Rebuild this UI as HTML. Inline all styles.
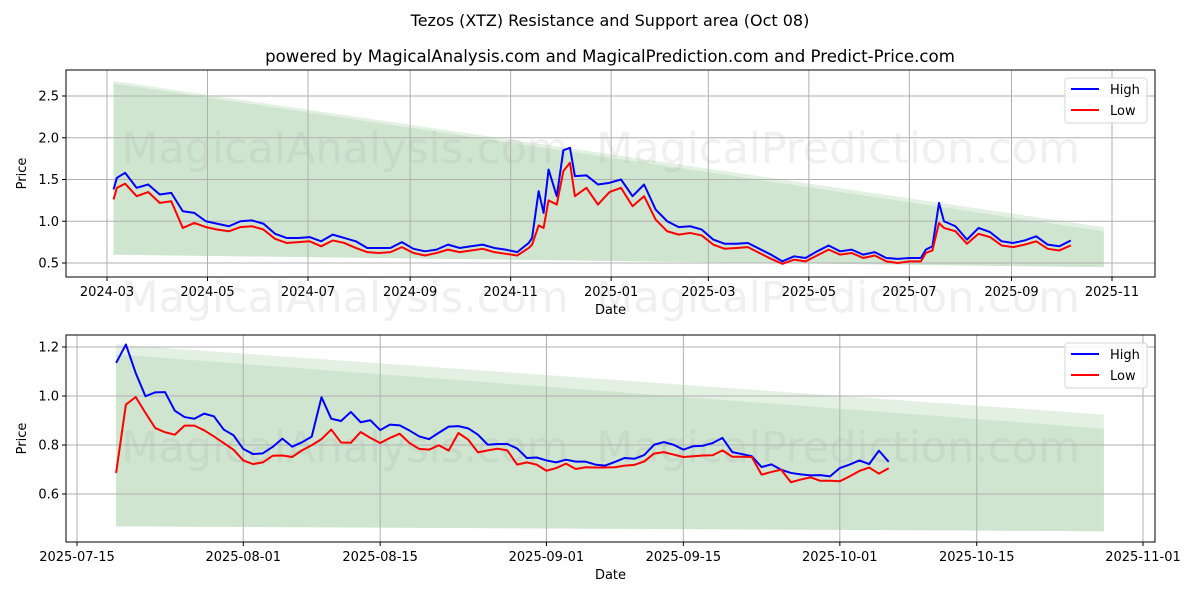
<!DOCTYPE html>
<html><head><meta charset="utf-8"><style>
html,body{margin:0;padding:0;background:#fff;}
svg{display:block;font-family:"DejaVu Sans","Liberation Sans",sans-serif;}
</style></head><body>
<svg id="chart" width="1200" height="600" viewBox="0 0 1200 600" xmlns="http://www.w3.org/2000/svg">
<rect width="1200" height="600" fill="#fff"/>
<text x="610" y="26" font-size="16" text-anchor="middle">Tezos (XTZ) Resistance and Support area (Oct 08)</text>
<text x="610" y="62" font-size="16.6" text-anchor="middle">powered by MagicalAnalysis.com and MagicalPrediction.com and Predict-Price.com</text>
<g id="top"></g>
<g id="bot"></g>
</svg>
<script>
// ---------- top chart data (days since 2024-03-01) ----------
const topDays = [4,6,11,18,25,32,39,46,53,60,67,74,81,88,95,102,109,116,123,130,137,144,151,158,165,172,179,186,193,200,207,214,221,228,235,242,249,256,258,262,265,268,273,277,281,284,291,298,305,312,319,326,333,340,347,354,361,368,375,382,389,396,403,410,417,424,431,438,445,452,459,466,473,480,487,494,497,501,505,508,515,522,529,536,543,550,557,564,571,578,585];
const topHigh = [1.38,1.52,1.58,1.40,1.44,1.32,1.34,1.12,1.10,1.00,0.97,0.94,1.00,1.01,0.97,0.85,0.80,0.80,0.81,0.76,0.84,0.80,0.76,0.68,0.68,0.68,0.75,0.67,0.64,0.66,0.72,0.68,0.70,0.72,0.68,0.66,0.63,0.74,0.80,1.36,1.10,1.62,1.30,1.85,1.88,1.54,1.55,1.44,1.46,1.50,1.30,1.44,1.14,1.00,0.93,0.94,0.90,0.78,0.73,0.73,0.74,0.67,0.60,0.52,0.58,0.56,0.64,0.71,0.64,0.66,0.60,0.63,0.56,0.55,0.56,0.56,0.66,0.70,1.22,1.00,0.94,0.78,0.92,0.87,0.76,0.74,0.77,0.82,0.72,0.70,0.77];
const topLow = [1.26,1.40,1.45,1.30,1.35,1.22,1.24,0.92,0.98,0.93,0.90,0.88,0.93,0.94,0.90,0.79,0.74,0.75,0.76,0.70,0.77,0.74,0.68,0.63,0.62,0.63,0.69,0.62,0.59,0.62,0.66,0.63,0.65,0.67,0.63,0.61,0.59,0.68,0.72,0.95,0.92,1.25,1.20,1.60,1.70,1.30,1.40,1.20,1.35,1.40,1.18,1.30,1.02,0.88,0.84,0.86,0.83,0.72,0.67,0.68,0.69,0.62,0.55,0.49,0.54,0.52,0.59,0.66,0.60,0.62,0.56,0.59,0.52,0.50,0.52,0.52,0.62,0.65,0.98,0.92,0.88,0.73,0.85,0.81,0.71,0.69,0.72,0.76,0.67,0.65,0.71];
const topBandDays = [4,605];
const topBandTopLight = [2.68,0.93];
const topBandTopDark = [2.65,0.88];
const topBandBottom = [0.60,0.45];
const topYTicks = [0.5,1.0,1.5,2.0,2.5];
const topXTickLabels = ["2024-03","2024-05","2024-07","2024-09","2024-11","2025-01","2025-03","2025-05","2025-07","2025-09","2025-11"];
const topXTickDays = [0,61,122,184,245,306,365,426,487,549,610];

// ---------- bottom chart data (days since 2025-07-15) ----------
const botHigh = [1.135,1.21,1.094,0.999,1.015,1.016,0.94,0.914,0.907,0.928,0.917,0.863,0.84,0.784,0.763,0.766,0.792,0.826,0.793,0.811,0.834,0.995,0.907,0.898,0.935,0.893,0.901,0.861,0.883,0.880,0.859,0.835,0.824,0.850,0.875,0.877,0.868,0.842,0.801,0.804,0.804,0.786,0.747,0.749,0.737,0.729,0.740,0.732,0.732,0.720,0.716,0.731,0.747,0.744,0.759,0.801,0.812,0.801,0.781,0.795,0.797,0.808,0.829,0.771,0.763,0.754,0.710,0.721,0.699,0.686,0.680,0.676,0.677,0.672,0.706,0.720,0.737,0.722,0.777,0.731];
const botLow = [0.686,0.965,0.996,0.931,0.869,0.852,0.842,0.879,0.879,0.860,0.835,0.808,0.781,0.737,0.722,0.729,0.756,0.757,0.751,0.778,0.799,0.824,0.863,0.810,0.809,0.853,0.829,0.808,0.829,0.846,0.808,0.784,0.781,0.799,0.777,0.849,0.822,0.770,0.778,0.785,0.778,0.720,0.729,0.720,0.695,0.706,0.724,0.702,0.709,0.708,0.708,0.709,0.716,0.719,0.733,0.765,0.771,0.761,0.751,0.754,0.757,0.758,0.778,0.752,0.752,0.751,0.679,0.690,0.699,0.648,0.659,0.668,0.654,0.654,0.652,0.672,0.694,0.708,0.683,0.705];
const botStartDay = 4;
const botBandDays = [4,105];
const botBandTopLight = [1.21,0.924];
const botBandTopDark = [1.17,0.867];
const botBandBottom = [0.468,0.448];
const botYTicks = [0.6,0.8,1.0,1.2];
const botXTickLabels = ["2025-07-15","2025-08-01","2025-08-15","2025-09-01","2025-09-15","2025-10-01","2025-10-15","2025-11-01"];
const botXTickDays = [0,17,31,48,62,78,92,109];

const NS="http://www.w3.org/2000/svg";
function mk(parent,tag,attrs){const e=document.createElementNS(NS,tag);for(const k in attrs)e.setAttribute(k,attrs[k]);parent.appendChild(e);return e;}

function drawPanel(g,o){
  const X=d=>o.x0+(d-o.d0)*o.pxd, Y=v=>o.y0-(v-o.v0)*o.pxv;
  const light=mk(g,'polygon',{points:`${X(o.bd[0])},${Y(o.btl[0])} ${X(o.bd[1])},${Y(o.btl[1])} ${X(o.bd[1])},${Y(o.bb[1])} ${X(o.bd[0])},${Y(o.bb[0])}`,fill:'#e3f1e3'});
  
  
  const dark=mk(g,'polygon',{points:`${X(o.bd[0])},${Y(o.btd[0])} ${X(o.bd[1])},${Y(o.btd[1])} ${X(o.bd[1])},${Y(o.bb[1])} ${X(o.bd[0])},${Y(o.bb[0])}`,fill:'#cfe5cf'});
  
  
  for(const w of o.wm){const t=mk(g,'text',{x:w[0],y:w[1],'font-size':43,fill:'#999','fill-opacity':0.15,'text-anchor':'middle'});t.textContent=w[2];
    
    }
  o.yt.forEach(v=>{mk(g,'line',{x1:o.L,x2:o.R,y1:Y(v),y2:Y(v),stroke:'#b0b0b0','stroke-width':1});
    mk(g,'line',{x1:o.L-4,x2:o.L,y1:Y(v),y2:Y(v),stroke:'#000'});
    const t=mk(g,'text',{x:o.L-7,y:Y(v)+4.5,'font-size':13,'text-anchor':'end'});t.textContent=v.toFixed(1);
    
    });
  o.xd.forEach((d,i)=>{mk(g,'line',{x1:X(d),x2:X(d),y1:o.T,y2:o.B,stroke:'#b0b0b0','stroke-width':1});
    mk(g,'line',{x1:X(d),x2:X(d),y1:o.B,y2:o.B+4,stroke:'#000'});
    const t=mk(g,'text',{x:X(d),y:o.B+19,'font-size':13,'text-anchor':'middle'});t.textContent=o.xl[i];
    
    });
  const hp=o.hd.map((d,i)=>`${X(d)},${Y(o.hi[i])}`).join(' ');
  const lp=o.hd.map((d,i)=>`${X(d)},${Y(o.lo[i])}`).join(' ');
  const hl=mk(g,'polyline',{points:hp,fill:'none',stroke:'#0000ff','stroke-width':2,'stroke-linejoin':'round'});
  
  
  const ll=mk(g,'polyline',{points:lp,fill:'none',stroke:'#ff0000','stroke-width':2,'stroke-linejoin':'round'});
  
  
  mk(g,'rect',{x:o.L,y:o.T,width:o.R-o.L,height:o.B-o.T,fill:'none',stroke:'#000','stroke-width':1});
  const xt=mk(g,'text',{x:(o.L+o.R)/2,y:o.B+37,'font-size':13,'text-anchor':'middle'});xt.textContent='Date';
  
  
  const yt=mk(g,'text',{x:0,y:0,'font-size':13,'text-anchor':'middle',transform:`translate(26,${(o.T+o.B)/2}) rotate(-90)`});yt.textContent='Price';
  
  
  const lg=mk(g,'g',{});
  
  
  mk(lg,'rect',{x:1065,y:o.T+8,width:82,height:45,rx:3,fill:'#fff','fill-opacity':0.85,stroke:'#d6d6d6'});
  mk(lg,'line',{x1:1071,x2:1099,y1:o.T+19,y2:o.T+19,stroke:'#0000ff','stroke-width':2});
  mk(lg,'line',{x1:1071,x2:1099,y1:o.T+40,y2:o.T+40,stroke:'#ff0000','stroke-width':2});
  const t1=mk(lg,'text',{x:1110,y:o.T+24,'font-size':13});t1.textContent='High';
  
  
  const t2=mk(lg,'text',{x:1110,y:o.T+45,'font-size':13});t2.textContent='Low';
  
  
}

const topG=document.getElementById('top');


drawPanel(topG,{L:66,R:1155,T:70,B:277,x0:107,d0:0,pxd:1005/610,y0:263,v0:0.5,pxv:167/2.0,
  bd:topBandDays,btl:topBandTopLight,btd:topBandTopDark,bb:topBandBottom,
  yt:topYTicks,xd:topXTickDays,xl:topXTickLabels,hd:topDays,hi:topHigh,lo:topLow,
  wm:[[345,163,'MagicalAnalysis.com'],[838,163,'MagicalPrediction.com'],[345,312,'MagicalAnalysis.com'],[838,312,'MagicalPrediction.com']]});

const botDays = botHigh.map((_,i)=>botStartDay+i);
const botG=document.getElementById('bot');


drawPanel(botG,{L:66,R:1155,T:335,B:542,x0:77,d0:0,pxd:1066/109,y0:347,v0:1.2,pxv:49/0.2,
  bd:botBandDays,btl:botBandTopLight,btd:botBandTopDark,bb:botBandBottom,
  yt:botYTicks,xd:botXTickDays,xl:botXTickLabels,hd:botDays,hi:botHigh,lo:botLow,
  wm:[[345,462,'MagicalAnalysis.com'],[838,462,'MagicalPrediction.com']]});
</script>
</body></html>
